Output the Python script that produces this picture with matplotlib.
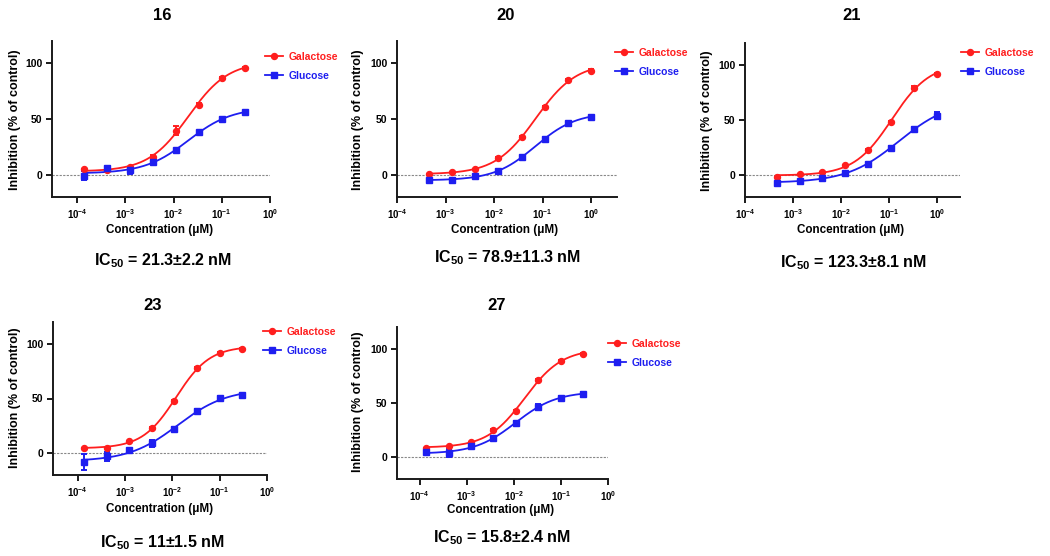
import numpy as np
import matplotlib
matplotlib.use("Agg")
import matplotlib.pyplot as plt
from matplotlib.ticker import FixedLocator, FuncFormatter, NullLocator

plt.rcParams['font.family'] = ['Liberation Sans', 'DejaVu Sans']
plt.rcParams['font.weight'] = 'bold'
plt.rcParams['mathtext.fontset'] = 'custom'
plt.rcParams['mathtext.rm'] = 'Liberation Sans:bold'
plt.rcParams['mathtext.bf'] = 'Liberation Sans:bold'
plt.rcParams['mathtext.it'] = 'Liberation Sans:bold'

# ---------------- data ----------------
panel_titles = ["16", "20", "21", "23", "27"]
ic50_labels = ["21.3±2.2", "78.9±11.3", "123.3±8.1", "11±1.5", "15.8±2.4"]
series_names = ["Galactose", "Glucose"]

conc_low = [0.000137, 0.000412, 0.00123, 0.0037, 0.0111, 0.0333, 0.1, 0.3]     # µM
conc_high = [0.000457, 0.00137, 0.0041, 0.0123, 0.037, 0.111, 0.333, 1.0]     # µM

gal_16 = [5, 4, 7, 16, 39.5, 63, 87, 96]
gal_16_err = [0, 0, 0, 1.5, 4, 1.5, 1, 1]
glu_16 = [-1, 6, 4, 11, 22, 38, 50, 56]
glu_16_err = [4, 1.5, 3, 1.5, 1.5, 1.5, 1.5, 1.5]

gal_20 = [0.5, 2, 5.5, 15, 33.5, 61, 85, 93.5]
gal_20_err = [0, 0, 0, 1, 1, 1, 1, 1]
glu_20 = [-5, -4.5, -1, 3.5, 15.5, 32.5, 46, 52]
glu_20_err = [1, 1, 1, 1.5, 1, 1.5, 1, 1]

gal_21 = [-1.5, 0.5, 2.4, 9, 22.5, 48, 79.5, 92]
gal_21_err = [0, 0, 0, 0, 1.5, 1.5, 1.5, 1]
glu_21 = [-7, -5.5, -2.5, 2, 10, 25, 42, 54]
glu_21_err = [1, 1, 1, 1, 1, 1.5, 1.5, 3]

gal_23 = [4.5, 5, 11, 23, 47.5, 78, 91.5, 95.5]
gal_23_err = [0, 0, 0, 1, 1, 1, 1, 1]
glu_23 = [-8, -3, 2.5, 9, 22, 38.5, 50.5, 53]
glu_23_err = [7, 4, 1.5, 3, 1.5, 1.5, 1.5, 1.5]

gal_27 = [9, 10, 14, 25, 42.5, 71, 89, 95.5]
gal_27_err = [0, 0, 0, 1, 1, 1, 1, 1]
glu_27 = [4.5, 4, 10, 17.5, 32, 46.5, 55, 58.5]
glu_27_err = [1.5, 4, 1.5, 1.5, 1.5, 3, 1.5, 1.5]

panel_conc = [conc_low, conc_high, conc_high, conc_low, conc_low]
panel_gal = [gal_16, gal_20, gal_21, gal_23, gal_27]
panel_gal_err = [gal_16_err, gal_20_err, gal_21_err, gal_23_err, gal_27_err]
panel_glu = [glu_16, glu_20, glu_21, glu_23, glu_27]
panel_glu_err = [glu_16_err, glu_20_err, glu_21_err, glu_23_err, glu_27_err]
xlims = [(10**-4.52, 1.0), (1e-4, 10**0.53), (1e-4, 10**0.48), (10**-4.52, 1.0), (10**-4.48, 1.0)]
xticks = [1e-4, 1e-3, 1e-2, 1e-1, 1e0]
yticks = [0, 50, 100]

RED = "#ff1e1e"
BLUE = "#1e1ef0"

# ---------------- layout (pixels) ----------------
W, H = 1050, 556
# left, right, top, bottom of each axes in pixels
ax_px = [(52, 270, 41, 197), (397, 617, 41, 197), (745, 960, 43, 197),
         (53, 267, 322, 475), (397, 608, 327, 479)]
title_px = [(162, 15), (506, 15), (852, 16), (153, 305), (497, 305)]
ylab_px = [(15, 120), (358, 120), (707, 121), (15, 398), (358, 402)]
xlab_px = [(160, 230), (505, 230), (851, 230), (160, 509), (501, 510)]
ic_px = [(163, 261), (507, 258), (853, 263), (162, 543), (502, 538)]
leg_px = [(265, 57), (615, 53), (961, 53), (263, 332), (608, 344)]


def fit4pl(x, y):
    lx = np.log10(np.asarray(x, float))
    y = np.asarray(y, float)
    cs = np.arange(-4.5, 1.0, 0.005)
    hs = np.arange(0.3, 3.0, 0.01)
    C, Hh = np.meshgrid(cs, hs, indexing='ij')
    C = C.ravel()[:, None]
    Hh = Hh.ravel()[:, None]
    s = 1.0 / (1.0 + 10 ** ((C - lx[None, :]) * Hh))
    u = 1 - s
    Suu = (u * u).sum(1); Suv = (u * s).sum(1); Svv = (s * s).sum(1)
    Suy = (u * y).sum(1); Svy = (s * y).sum(1)
    det = Suu * Svv - Suv ** 2
    det[np.abs(det) < 1e-12] = np.nan
    b = (Svv * Suy - Suv * Svy) / det
    t = (Suu * Svy - Suv * Suy) / det
    sse = ((y[None, :] - b[:, None] * u - t[:, None] * s) ** 2).sum(1)
    i = np.nanargmin(sse)
    return b[i], t[i], C[i, 0], Hh[i, 0]


def curve(x, params):
    b, t, c, h = params
    xx = np.logspace(np.log10(min(x)), np.log10(max(x)), 200)
    return xx, b + (t - b) / (1 + 10 ** ((c - np.log10(xx)) * h))


fig = plt.figure(figsize=(W / 100, H / 100), dpi=100)
fmt = FuncFormatter(lambda v, p: r'$\mathbf{10^{%d}}$' % int(round(np.log10(v))))

for k in range(5):
    L, R, T, B = ax_px[k]
    ax = fig.add_axes([L / W, 1 - B / H, (R - L) / W, (B - T) / H])
    x = panel_conc[k]
    ax.axhline(0, color='#888888', lw=0.8, ls=(0, (2, 1.2)), zorder=1)
    for vals, errs, col, mk, ms, name in [
            (panel_gal[k], panel_gal_err[k], RED, 'o', 4.3, series_names[0]),
            (panel_glu[k], panel_glu_err[k], BLUE, 's', 4.3, series_names[1])]:
        p = fit4pl(x, vals)
        cx, cy = curve(x, p)
        ax.plot(cx, cy, color=col, lw=1.3, zorder=2)
        ax.errorbar(x, vals, yerr=errs, fmt=mk, color=col, ms=ms, elinewidth=1.4,
                    capsize=2.2, capthick=1.4, zorder=3)
        ax.plot([], [], color=col, lw=1.3, marker=mk, ms=ms, label=name)
    ax.set_xscale('log')
    ax.set_xlim(*xlims[k])
    ax.set_ylim(-20, 120)
    ax.xaxis.set_major_locator(FixedLocator(xticks))
    ax.xaxis.set_minor_locator(NullLocator())
    ax.xaxis.set_major_formatter(fmt)
    ax.set_yticks(yticks)
    for sp in ['top', 'right']:
        ax.spines[sp].set_visible(False)
    for sp in ['left', 'bottom']:
        ax.spines[sp].set_linewidth(1.4)
        ax.spines[sp].set_color('#1a1a1a')
    ax.tick_params(axis='both', direction='out', length=4, width=1.4,
                   color='#1a1a1a', pad=3)
    ax.tick_params(axis='y', labelsize=7.5)
    ax.tick_params(axis='x', labelsize=7)
    for lab in ax.get_yticklabels():
        lab.set_fontweight('bold')

    tx, ty = title_px[k]
    fig.text(tx / W, 1 - ty / H, panel_titles[k], ha='center', va='center',
             fontsize=12, fontweight='bold')
    yx, yy = ylab_px[k]
    fig.text(yx / W, 1 - yy / H, "Inhibition (% of control)", rotation=90,
             ha='center', va='center', fontsize=9, fontweight='bold')
    xx_, xy_ = xlab_px[k]
    fig.text(xx_ / W, 1 - xy_ / H, "Concentration (μM)", ha='center', va='center',
             fontsize=8.4, fontweight='bold')
    ix, iy = ic_px[k]
    fig.text(ix / W, 1 - iy / H, r'IC$_{\mathbf{50}}$ = ' + ic50_labels[k] + ' nM',
             ha='center', va='center', fontsize=11.5, fontweight='bold')

    lx, ly = leg_px[k]
    leg = ax.legend(loc='upper left', bbox_to_anchor=(lx / W, 1 - (ly - 5) / H),
                    bbox_transform=fig.transFigure, frameon=False, borderpad=0,
                    borderaxespad=0, handlelength=1.75, handletextpad=0.55,
                    labelspacing=0.85, prop={'size': 7.5, 'weight': 'bold'},
                    numpoints=1)
    for txt, col in zip(leg.get_texts(), [RED, BLUE]):
        txt.set_color(col)

fig.savefig("out.png", dpi=100)
